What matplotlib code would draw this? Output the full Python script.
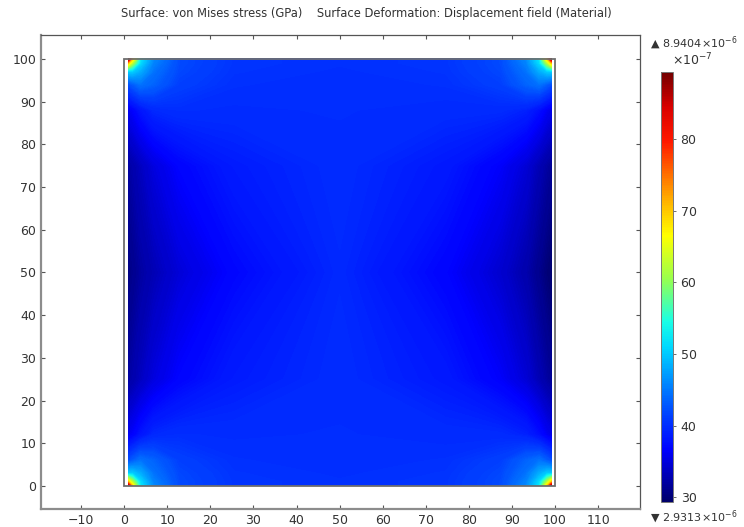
import numpy as np
import matplotlib
matplotlib.use("Agg")
import matplotlib.pyplot as plt
from matplotlib.patches import Rectangle
from matplotlib.colors import Normalize, LinearSegmentedColormap
from matplotlib.cm import ScalarMappable

# grid nodes (undeformed y, deformed x) in length units
x_nodes = [0.9, 1.9, 3.8, 6.8, 12.7, 25.5, 50.0, 74.6, 87.4, 93.3, 96.3, 98.2, 99.2]
y_nodes = [0, 1, 3, 6, 12, 25, 50, 75, 88, 94, 97, 99, 100]

# von Mises stress, units of 1e-7 GPa (rows = y_nodes)
stress = [
    [89.4, 70, 52, 46, 42, 40.5, 40.2, 40.5, 42, 46, 52, 70, 89.4],
    [70, 62, 51, 45.5, 42, 40.5, 40.2, 40.5, 42, 45.5, 51, 62, 70],
    [50, 50, 48, 44.5, 41.8, 40.4, 40.1, 40.4, 41.8, 44.5, 48, 50, 50],
    [42, 43, 44.5, 43.5, 41.3, 40.2, 40, 40.2, 41.3, 43.5, 44.5, 43, 42],
    [36, 36.5, 38, 39.5, 40, 39.9, 40, 39.8, 39.7, 39, 37.5, 36, 35.5],
    [32, 32.5, 33.5, 35, 36.8, 38.6, 39.8, 38.4, 36.4, 34.6, 33, 32, 31.5],
    [30.5, 31, 32, 33, 34.7, 37, 39.5, 36.8, 34.3, 32.5, 31, 30, 29.5],
    [32, 32.5, 33.5, 35, 36.8, 38.6, 39.8, 38.4, 36.4, 34.6, 33, 32, 31.5],
    [36, 36.5, 38, 39.5, 40, 39.9, 40, 39.8, 39.7, 39, 37.5, 36, 35.5],
    [42, 43, 44.5, 43.5, 41.3, 40.2, 40, 40.2, 41.3, 43.5, 44.5, 43, 42],
    [50, 50, 48, 44.5, 41.8, 40.4, 40.1, 40.4, 41.8, 44.5, 48, 50, 50],
    [70, 62, 51, 45.5, 42, 40.5, 40.2, 40.5, 42, 45.5, 51, 62, 70],
    [89.4, 70, 52, 46, 42, 40.5, 40.2, 40.5, 42, 46, 52, 70, 89.4],
]
s_min, s_max = 29.313, 89.404
cbar_ticks = [30, 40, 50, 60, 70, 80]
x_ticks = list(range(-10, 111, 10))
y_ticks = list(range(0, 101, 10))

title = "Surface: von Mises stress (GPa)    Surface Deformation: Displacement field (Material)"

# COMSOL-like rainbow
rainbow = LinearSegmentedColormap.from_list("rainbow_comsol", [
    (0.00, (0.00, 0.00, 0.42)),
    (0.12, (0.00, 0.00, 1.00)),
    (0.20, (0.00, 0.25, 1.00)),
    (0.36, (0.00, 0.85, 1.00)),
    (0.42, (0.10, 1.00, 0.90)),
    (0.52, (0.60, 1.00, 0.30)),
    (0.62, (1.00, 1.00, 0.00)),
    (0.70, (1.00, 0.70, 0.00)),
    (0.84, (1.00, 0.10, 0.00)),
    (0.92, (0.85, 0.00, 0.00)),
    (1.00, (0.45, 0.00, 0.00)),
])

txt = "#333333"
fig = plt.figure(figsize=(7.44, 5.27), dpi=100)
ax = fig.add_axes([0.0551, 0.0342, 0.8051, 0.8994])

norm = Normalize(vmin=s_min, vmax=s_max)
levels = np.linspace(s_min, s_max, 300)
ax.contourf(x_nodes, y_nodes, np.array(stress), levels=levels, cmap=rainbow, norm=norm)

# undeformed geometry outline
ax.add_patch(Rectangle((0, 0), 100, 100, fill=False, edgecolor="#6e6e6e", lw=1.3, zorder=5))

ax.set_xlim(-19.3, 119.7)
ax.set_ylim(-5.4, 105.6)
ax.set_xticks(x_ticks)
ax.set_yticks(y_ticks)
ax.tick_params(direction="in", length=3, width=0.8, colors="#555555", labelcolor=txt,
               labelsize=9, top=True, right=True)
for side in ["left", "bottom"]:
    ax.spines[side].set_color("#8c8c8c")
    ax.spines[side].set_linewidth(1.6)
for side in ["top", "right"]:
    ax.spines[side].set_color("#555555")
    ax.spines[side].set_linewidth(0.9)

fig.text(0.492, 0.975, title, ha="center", va="center", fontsize=8.3, color=txt)

# colour legend
cax = fig.add_axes([0.8884, 0.0474, 0.0161, 0.816])
cb = fig.colorbar(ScalarMappable(norm=norm, cmap=rainbow), cax=cax, ticks=cbar_ticks)
cb.outline.set_edgecolor("#777777")
cb.outline.set_linewidth(0.7)
cax.tick_params(length=2, width=0.6, colors="#555555", labelcolor=txt, labelsize=9)

fig.text(0.9035, 0.887, "×10$^{-7}$", ha="left", va="center", fontsize=9, color=txt)
fig.text(0.873, 0.918, "▲ 8.9404×10$^{-6}$", ha="left", va="center", fontsize=8, color=txt)
fig.text(0.873, 0.019, "▼ 2.9313×10$^{-6}$", ha="left", va="center", fontsize=8, color=txt)

fig.savefig("out.png", dpi=100)
